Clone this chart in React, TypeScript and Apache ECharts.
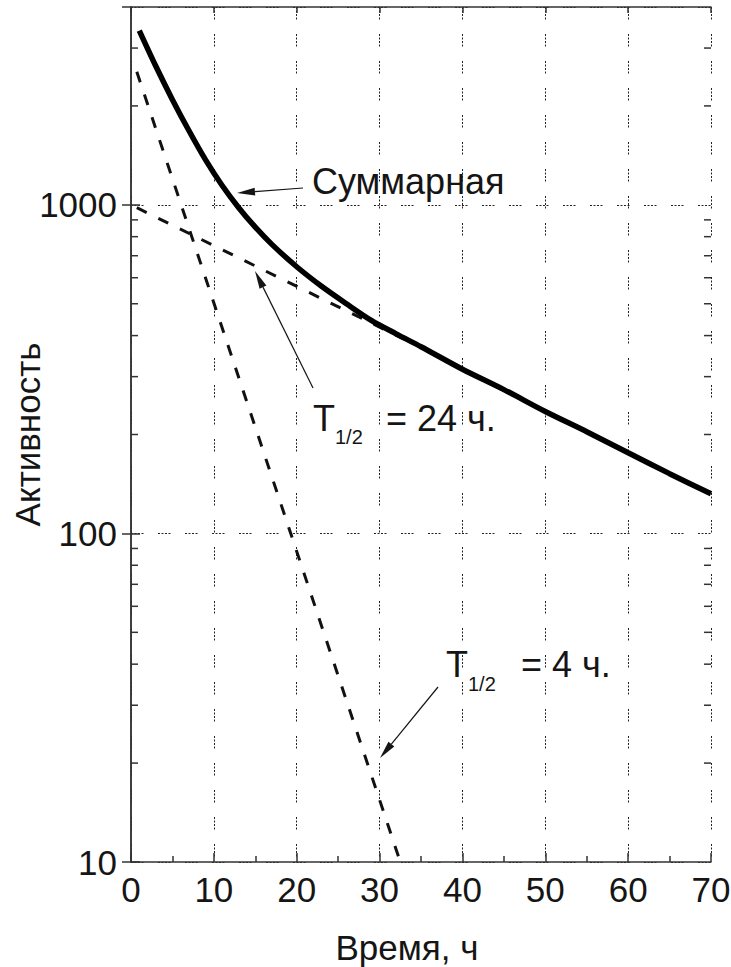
import React, { useEffect, useRef } from 'react';
import * as echarts from 'echarts';

// Суммарная активность (сплошная толстая кривая)
const sumTimes = [1, 3, 5, 7, 9, 11, 13, 15, 17, 20, 23, 26, 29, 32, 35, 40, 45, 50, 55, 60, 65, 70];
const sumValues = [3390, 2640, 2090, 1680, 1370, 1145, 980, 855, 758, 648, 565, 500, 445, 405, 370, 316, 274, 235, 204, 176, 152, 132];

// Короткоживущий компонент, T1/2 = 4 ч (штриховая)
const fastTimes = [0.7, 32.5];
const fastValues = [2540, 10];

// Долгоживущий компонент, T1/2 = 24 ч (штриховая)
const slowTimes = [0.7, 35];
const slowValues = [980, 368];

const yMajorLabels = [10, 100, 1000];
const yMinorTicks = [20, 30, 40, 50, 60, 70, 80, 90, 200, 300, 400, 500, 600, 700, 800, 900, 2000, 3000];

const FONT = '"Liberation Sans", Arial, sans-serif';
const INK = '#151515';
const GRID_DASH = [2, 1.5, 2, 1.5, 2, 1.5, 2, 14.5];

function arrow(tail: [number, number], tip: [number, number], len = 18, half = 3.8) {
  const dx = tip[0] - tail[0];
  const dy = tip[1] - tail[1];
  const d = Math.hypot(dx, dy);
  const ux = dx / d, uy = dy / d;
  const bx = tip[0] - ux * len, by = tip[1] - uy * len;
  const px = -uy, py = ux;
  return [
    { type: 'line', silent: true, shape: { x1: tail[0], y1: tail[1], x2: bx, y2: by }, style: { stroke: INK, lineWidth: 1.2 } },
    {
      type: 'polygon', silent: true,
      shape: { points: [tip, [bx + px * half, by + py * half], [bx - px * half, by - py * half]] },
      style: { fill: INK },
    },
  ];
}

function txt(text: string, x: number, y: number, size: number) {
  return {
    type: 'text', silent: true,
    style: {
      text, x, y, fill: INK, fontSize: size, fontFamily: FONT,
      textAlign: 'left', align: 'left', textVerticalAlign: 'middle', verticalAlign: 'middle',
    },
  };
}

export default function App() {
  const ref = useRef<HTMLDivElement>(null);
  useEffect(() => {
    if (!ref.current) return;
    const chart = echarts.init(ref.current, undefined, { renderer: 'svg' });
    const axisLine = { show: true, lineStyle: { color: '#333', width: 1.5 } };
    const option: any = {
      animation: false,
      backgroundColor: '#fff',
      textStyle: { fontFamily: FONT, color: INK },
      grid: { left: 131, top: 7, right: 20, bottom: 105, containLabel: false, outerBoundsMode: 'none' },
      xAxis: [
        {
          type: 'value', min: 0, max: 70, interval: 10, position: 'bottom',
          axisLine,
          axisTick: { show: true, inside: true, length: 9, lineStyle: { color: '#333', width: 1.5 } },
          minorTick: { show: true, splitNumber: 2, length: 6, lineStyle: { color: '#333', width: 1.5 } },
          axisLabel: { fontSize: 35, color: INK, margin: 10, fontFamily: FONT },
          splitLine: { show: true, lineStyle: { color: '#222', width: 1, type: GRID_DASH } },
          name: 'Время, ч', nameLocation: 'middle', nameGap: 68, nameMoveOverlap: false,
          nameTextStyle: { fontSize: 35, color: INK, fontFamily: FONT, padding: [0, 28, 0, 0] },
        },
        {
          type: 'value', min: 0, max: 70, interval: 10, position: 'top',
          axisLine,
          axisTick: { show: true, inside: true, length: 6, lineStyle: { color: '#333', width: 1.5 } },
          axisLabel: { show: false }, splitLine: { show: false },
        },
      ],
      yAxis: [
        {
          type: 'log', logBase: 10, min: 10, max: 4000, position: 'left',
          axisLine,
          axisTick: { show: true, inside: true, length: 9, lineStyle: { color: '#333', width: 1.5 } },
          axisLabel: {
            fontSize: 35, color: INK, margin: 14, fontFamily: FONT, showMaxLabel: false,
            formatter: (v: number) => {
              const r = Math.round(v);
              return yMajorLabels.includes(r) ? String(r) : '';
            },
          },
          splitLine: { show: true, lineStyle: { color: '#222', width: 1, type: GRID_DASH } },
          name: 'Активность', nameLocation: 'middle', nameRotate: 90, nameGap: 86, nameMoveOverlap: false,
          nameTextStyle: { fontSize: 35, color: INK, fontFamily: FONT },
        },
        {
          type: 'log', logBase: 10, min: 10, max: 4000, position: 'right',
          axisLine,
          axisTick: { show: true, inside: true, length: 9, lineStyle: { color: '#333', width: 1.5 } },
          axisLabel: { show: false }, splitLine: { show: false },
        },
      ],
      series: [
        {
          type: 'custom', silent: true, clip: false, z: 4,
          data: yMinorTicks.map((v) => [0, v]),
          encode: { x: 0, y: 1 },
          renderItem: (params: any, api: any) => {
            const cs = params.coordSys;
            const y = api.coord([0, api.value(1)])[1];
            const st = { stroke: '#333', lineWidth: 1.5 };
            return {
              type: 'group',
              children: [
                { type: 'line', shape: { x1: cs.x, y1: y, x2: cs.x + 7, y2: y }, style: st },
                { type: 'line', shape: { x1: cs.x + cs.width - 7, y1: y, x2: cs.x + cs.width, y2: y }, style: st },
              ],
            };
          },
        },
        {
          name: 'T1/2 = 4 ч', type: 'line', showSymbol: false, z: 5,
          data: fastTimes.map((t, i) => [t, fastValues[i]]),
          lineStyle: { color: '#111', width: 3, type: [11, 13], cap: 'butt' },
        },
        {
          name: 'T1/2 = 24 ч', type: 'line', showSymbol: false, z: 5,
          data: slowTimes.map((t, i) => [t, slowValues[i]]),
          lineStyle: { color: '#111', width: 3, type: [11, 13], cap: 'butt' },
        },
        {
          name: 'Суммарная', type: 'line', showSymbol: false, smooth: 0.3, z: 6,
          data: sumTimes.map((t, i) => [t, sumValues[i]]),
          lineStyle: { color: '#000', width: 5.5 },
        },
      ],
      graphic: [
        ...arrow([303, 188], [237, 193]),
        ...arrow([313, 388], [255, 271]),
        ...arrow([438, 687], [380, 758]),
        txt('Суммарная', 312, 181, 36),
        txt('T', 313, 418, 36),
        txt('1/2', 335, 437, 20),
        txt('= 24 ч.', 386, 418, 36),
        txt('T', 446, 664, 36),
        txt('1/2', 468, 684, 20),
        txt('= 4 ч.', 521, 664, 36),
      ],
    };
    chart.setOption(option);
    return () => chart.dispose();
  }, []);
  return <div ref={ref} style={{ position: 'fixed', left: 0, top: 0, width: 731, height: 967, background: '#fff' }} />;
}
